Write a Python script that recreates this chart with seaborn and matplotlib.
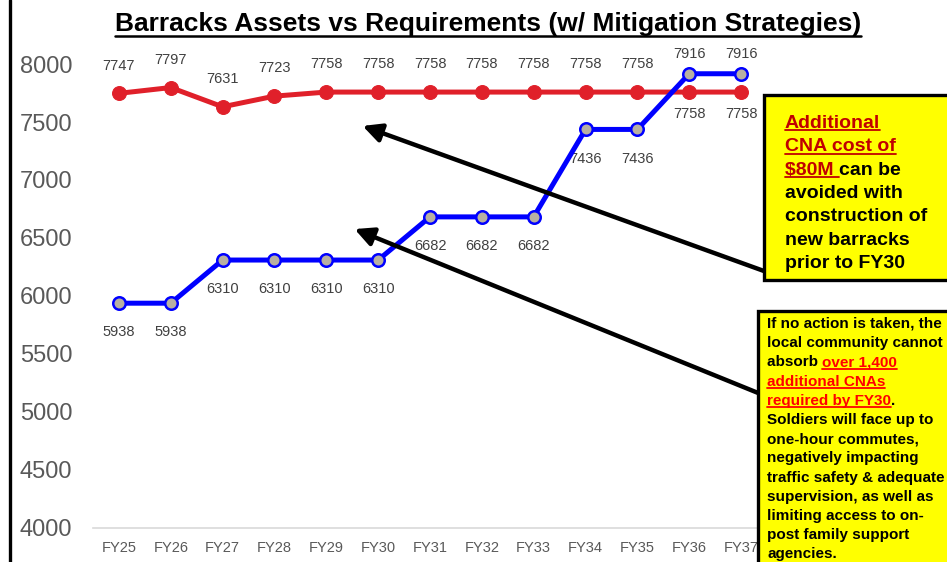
import matplotlib
matplotlib.use("Agg")
import matplotlib.pyplot as plt
import seaborn as sns
import pandas as pd
from matplotlib.patches import Rectangle, FancyArrowPatch
from matplotlib.lines import Line2D

# ---------------- data ----------------
years = ["FY25", "FY26", "FY27", "FY28", "FY29", "FY30", "FY31",
         "FY32", "FY33", "FY34", "FY35", "FY36", "FY37"]
requirements = [7747, 7797, 7631, 7723, 7758, 7758, 7758, 7758, 7758, 7758, 7758, 7758, 7758]
assets = [5938, 5938, 6310, 6310, 6310, 6310, 6682, 6682, 6682, 7436, 7436, 7916, 7916]
y_ticks = [4000, 4500, 5000, 5500, 6000, 6500, 7000, 7500, 8000]

title = "Barracks Assets vs Requirements (w/ Mitigation Strategies)"

W, H = 947, 562
sns.set_theme(style="white")
plt.rcParams["font.family"] = ["Liberation Sans", "DejaVu Sans"]

fig = plt.figure(figsize=(W / 100, H / 100), dpi=100)
fig.patch.set_facecolor("white")


def fx(x):
    return x / W


def fy(y):
    return 1 - y / H


ax = fig.add_axes([fx(93), fy(528), (767 - 93) / W, (528 - 46.6) / H])
ax.set_facecolor("none")

df = pd.DataFrame({"year": years, "req": requirements, "assets": assets})

RED = "#E0202A"
BLUE = "#0000FF"
sns.lineplot(data=df, x="year", y="req", ax=ax, color=RED, lw=3.6,
             marker="o", markersize=10, markerfacecolor=RED,
             markeredgecolor=RED, sort=False, zorder=3)
sns.lineplot(data=df, x="year", y="assets", ax=ax, color=BLUE, lw=3.6,
             marker="o", markersize=9, markerfacecolor="#B8B0A2",
             markeredgecolor=BLUE, markeredgewidth=1.8, sort=False, zorder=4)

ax.set_xlim(-0.5, 12.5)
ax.set_ylim(4000, 8150)
ax.set_yticks(y_ticks)
ax.set_yticklabels([str(v) for v in y_ticks])
ax.set_xlabel("")
ax.set_ylabel("")
for s in ["top", "right", "left"]:
    ax.spines[s].set_visible(False)
ax.spines["bottom"].set_color("#D9D9D9")
ax.spines["bottom"].set_linewidth(1.2)
ax.tick_params(axis="y", length=0, pad=15, labelsize=17, labelcolor="#595959")
ax.tick_params(axis="x", length=0, pad=9, labelsize=10.5, labelcolor="#595959")
ax.grid(False)

LBL = dict(ha="center", va="center", fontsize=10.5, color="#404040",
           textcoords="offset points")
for i, (r, a) in enumerate(zip(requirements, assets)):
    if a > r:
        ax.annotate(str(r), (i, r), xytext=(0, -16), **LBL)
        ax.annotate(str(a), (i, a), xytext=(0, 14), **LBL)
    else:
        ax.annotate(str(r), (i, r), xytext=(0, 20), **LBL)
        ax.annotate(str(a), (i, a), xytext=(0, -21), **LBL)

# left vertical rule
fig.add_artist(Line2D([fx(10), fx(10)], [0, 1], color="black", lw=2.4))

# title with underline
renderer = fig.canvas.get_renderer()
t = fig.text(fx(488), fy(31), title, ha="center", va="baseline",
             fontsize=19, fontweight="bold", color="black")
bb = t.get_window_extent(renderer)
fig.add_artist(Line2D([bb.x0 / W, bb.x1 / W], [fy(35.5), fy(35.5)],
                      color="black", lw=1.8))

# arrows
for (x0, y0), (x1, y1) in [((775, 275), (360, 125)), ((768, 397), (352, 228))]:
    fig.add_artist(FancyArrowPatch((fx(x0), fy(y0)), (fx(x1), fy(y1)),
                                   transform=fig.transFigure,
                                   arrowstyle="-|>", mutation_scale=28,
                                   lw=3.2, color="black", zorder=5))

# boxes
fig.add_artist(Rectangle((fx(764), fy(280)), (W - 764 + 10) / W, (280 - 95) / H,
                         transform=fig.transFigure, facecolor="#FFFF00",
                         edgecolor="black", lw=2.4, zorder=6))
fig.add_artist(Rectangle((fx(758), fy(H + 10)), (W - 758 + 10) / W, (H + 10 - 311) / H,
                         transform=fig.transFigure, facecolor="#FFFF00",
                         edgecolor="black", lw=2.4, zorder=6))


def seg_line(x, y, segments, size):
    for text, color, ul in segments:
        tt = fig.text(fx(x), fy(y), text, ha="left", va="baseline",
                      fontsize=size, fontweight="bold", color=color, zorder=7)
        b = tt.get_window_extent(renderer)
        if ul:
            fig.add_artist(Line2D([b.x0 / W, b.x1 / W], [fy(y + 2.5), fy(y + 2.5)],
                                  color=color, lw=1.3, zorder=7))
        x += b.width


DR = "#C00000"
K = "black"
box1 = [
    [("Additional", DR, True)],
    [("CNA cost of", DR, True)],
    [(r"\$80M ", DR, True), ("can be", K, False)],
    [("avoided with", K, False)],
    [("construction of", K, False)],
    [("new barracks", K, False)],
    [("prior to FY30", K, False)],
]
for i, segs in enumerate(box1):
    seg_line(785, 128 + 23.3 * i, segs, 14)

BR = "#FF0000"
box2 = [
    [("If no action is taken, the", K, False)],
    [("local community cannot", K, False)],
    [("absorb ", K, False), ("over 1,400", BR, True)],
    [("additional CNAs", BR, True)],
    [("required by FY30", BR, True), (".", K, False)],
    [("Soldiers will face up to", K, False)],
    [("one-hour commutes,", K, False)],
    [("negatively impacting", K, False)],
    [("traffic safety & adequate", K, False)],
    [("supervision, as well as", K, False)],
    [("limiting access to on-", K, False)],
    [("post family support", K, False)],
    [("agencies.", K, False)],
]
for i, segs in enumerate(box2):
    seg_line(767, 328 + 19.2 * i, segs, 11)

fig.savefig("out.png", dpi=100)
